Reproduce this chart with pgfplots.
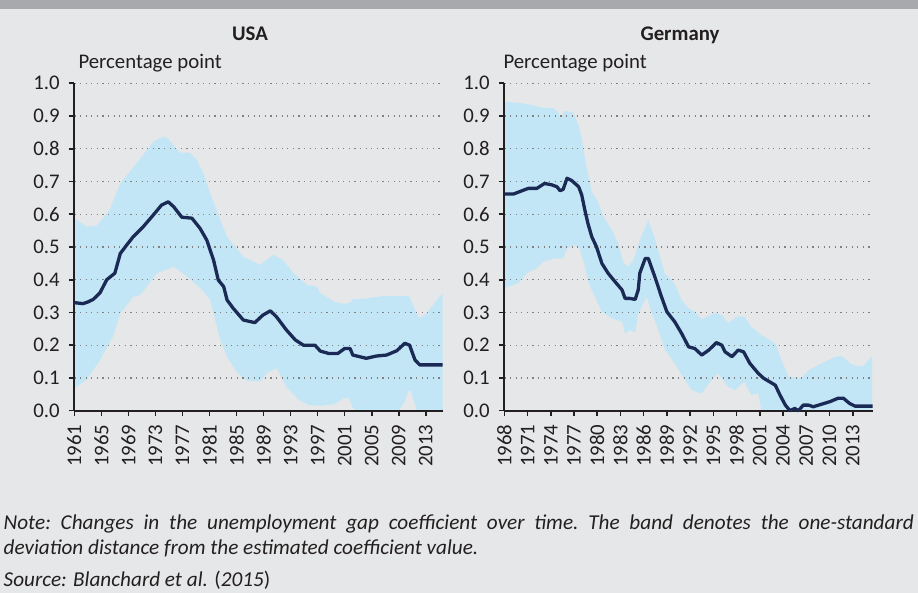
\documentclass[border=0pt]{standalone}
\usepackage{fontspec}
\setmainfont{Carlito}
\usepackage{pgfplots}
\pgfplotsset{compat=1.18}
\usepgfplotslibrary{fillbetween}
\definecolor{bg}{HTML}{E6E7E8}
\definecolor{topbar}{HTML}{A7A9AC}
\definecolor{band}{HTML}{C2E6F6}
\definecolor{navy}{HTML}{1B2A55}
\definecolor{axisc}{HTML}{231F20}
\definecolor{gridc}{HTML}{808080}
\newcommand{\tfont}{\fontsize{20.8bp}{24bp}\selectfont}
\pgfplotsset{
 /tikz/fill between/on layer=main,
 panel/.style={
  set layers, axis on top,
  scale only axis, width=368.4bp, height=327.4bp,
  anchor=south west,
  ymin=0, ymax=1,
  ytick={0,0.1,0.2,0.3,0.4,0.5,0.6,0.7,0.8,0.9,1.0},
  axis x line*=bottom, axis y line*=left,
  axis line style={axisc, line width=2bp, -},
  tick style={axisc, line width=1.6bp},
  major tick length=5.5bp,
  tick align=outside,
  ymajorgrids,
  grid style={gridc, line width=1.1bp, dash pattern=on 1.2bp off 4.4bp},
  /pgf/number format/assume math mode=true,
  /pgf/number format/1000 sep={},
  yticklabel={\pgfmathprintnumber[fixed,fixed zerofill,precision=1]{\tick}},
  ticklabel style={font=\tfont, text=axisc},
  xticklabel style={rotate=90, anchor=east},
  xticklabel shift=5bp,
  yticklabel shift=5.5bp,
 }
}
\begin{document}
\begin{tikzpicture}
\fill[bg] (0,0) rectangle (918bp,593bp);
\fill[topbar] (0,583.7bp) rectangle (918bp,593bp);
\node[anchor=base, inner sep=0, font=\bfseries\tfont, text=axisc] at (250bp,552bp) {USA};
\node[anchor=base, inner sep=0, font=\bfseries\tfont, text=axisc] at (680bp,552bp) {Germany};
\node[anchor=base west, inner sep=0, font=\tfont, text=axisc] at (78.3bp,524.5bp) {Percentage point};
\node[anchor=base west, inner sep=0, font=\tfont, text=axisc] at (503.3bp,524.5bp) {Percentage point};

\begin{axis}[panel, at={(74.3bp,182.3bp)}, xmin=1961, xmax=2015.5, xtick={1961,1965,...,2013}]
\addplot[draw=none, name path=uu] coordinates {
(1961,0.588)(1962.8,0.562)(1964.3,0.565)(1966.2,0.613)(1967.8,0.694)(1969.2,0.730)(1971.2,0.781)(1972.7,0.822)(1974.2,0.837)(1974.9,0.830)(1976.6,0.788)(1978.1,0.788)(1979.1,0.766)(1980.1,0.725)(1981.1,0.664)(1982.6,0.582)(1983.6,0.531)(1986.0,0.470)(1988.5,0.445)(1990.4,0.476)(1991.9,0.460)(1993.4,0.420)(1995.4,0.384)(1996.9,0.379)(1997.4,0.359)(1999.4,0.333)(2000.9,0.326)(2001.9,0.330)(2002.1,0.340)(2004.2,0.343)(2006.7,0.350)(2010.2,0.350)(2010.6,0.348)(2011.4,0.307)(2012.1,0.282)(2013.1,0.297)(2015.5,0.360)};
\addplot[draw=none, name path=ul] coordinates {
(1961,0.068)(1962.8,0.094)(1964.8,0.155)(1966.7,0.226)(1967.8,0.297)(1969.7,0.348)(1970.7,0.353)(1971.7,0.379)(1973.2,0.420)(1975.7,0.440)(1977.7,0.410)(1979.6,0.375)(1980.3,0.360)(1981.1,0.338)(1982.6,0.216)(1983.6,0.165)(1985.0,0.119)(1986.5,0.092)(1988.5,0.090)(1989.5,0.116)(1990.9,0.130)(1992.4,0.073)(1994.2,0.033)(1995.7,0.017)(1997.4,0.015)(1999.4,0.020)(2000.9,0.038)(2001.6,0.038)(2002.2,0.010)(2002.6,0.0)(2009.0,0.0)(2009.9,0.030)(2010.4,0.060)(2010.8,0.060)(2011.7,0.0)(2015.5,0.0)};
\addplot[band, on layer=main] fill between[of=uu and ul];
\addplot[navy, line width=3.3bp, on layer=axis foreground, line join=round] coordinates {
(1961,0.330)(1962.3,0.327)(1963.0,0.332)(1963.8,0.340)(1964.8,0.360)(1965.8,0.400)(1967.0,0.420)(1967.8,0.480)(1968.75,0.506)(1969.7,0.531)(1971.2,0.562)(1972.7,0.598)(1973.9,0.628)(1974.9,0.638)(1975.7,0.623)(1976.9,0.591)(1978.4,0.588)(1979.6,0.557)(1980.6,0.521)(1981.6,0.460)(1982.3,0.399)(1983.1,0.379)(1983.6,0.338)(1984.5,0.313)(1986.0,0.277)(1987.7,0.269)(1988.9,0.292)(1990.0,0.305)(1990.9,0.287)(1992.4,0.246)(1993.7,0.216)(1994.9,0.200)(1996.6,0.200)(1997.4,0.182)(1998.6,0.175)(2000.0,0.175)(2001.0,0.190)(2001.8,0.190)(2002.2,0.170)(2004.2,0.160)(2005.7,0.167)(2007.2,0.170)(2008.7,0.183)(2009.9,0.206)(2010.6,0.200)(2011.4,0.155)(2012.1,0.140)(2015.5,0.140)};
\end{axis}

\begin{axis}[panel, at={(504.3bp,182.3bp)}, xmin=1968, xmax=2015.58, xtick={1968,1971,...,2013}]
\addplot[draw=none, name path=gu] coordinates {
(1968,0.944)(1970.2,0.939)(1971.5,0.934)(1973.0,0.925)(1974.3,0.925)(1975.0,0.910)(1975.2,0.893)(1975.8,0.916)(1976.9,0.910)(1977.6,0.870)(1978.0,0.830)(1978.6,0.746)(1979.3,0.669)(1980.1,0.638)(1980.8,0.593)(1981.9,0.552)(1982.7,0.511)(1983.4,0.450)(1984.0,0.440)(1984.7,0.460)(1985.5,0.521)(1986.6,0.582)(1987.5,0.521)(1988.7,0.420)(1990.0,0.389)(1990.7,0.348)(1990.9,0.338)(1991.8,0.313)(1992.6,0.302)(1993.5,0.279)(1995.2,0.300)(1996.1,0.292)(1996.9,0.267)(1998.2,0.289)(1999.0,0.287)(1999.9,0.257)(2001.2,0.231)(2003.0,0.206)(2003.8,0.155)(2004.7,0.104)(2006.4,0.100)(2007.3,0.124)(2009.0,0.145)(2010.8,0.165)(2011.6,0.167)(2012.9,0.140)(2014.3,0.135)(2015.5,0.167)};
\addplot[draw=none, name path=gl] coordinates {
(1968,0.374)(1969.8,0.389)(1970.9,0.420)(1972.2,0.435)(1973.0,0.455)(1974.5,0.465)(1975.6,0.465)(1976.1,0.496)(1977.1,0.506)(1977.7,0.496)(1978.3,0.450)(1978.9,0.390)(1979.7,0.348)(1980.6,0.302)(1981.9,0.282)(1983.2,0.272)(1983.6,0.236)(1984.2,0.246)(1984.9,0.240)(1985.3,0.297)(1986.4,0.348)(1987.0,0.302)(1987.9,0.246)(1988.8,0.184)(1990.0,0.145)(1991.3,0.094)(1992.2,0.063)(1993.5,0.053)(1994.8,0.094)(1995.6,0.114)(1996.9,0.073)(1997.8,0.063)(1999.0,0.089)(1999.9,0.048)(2000.8,0.053)(2001.2,0.0)(2015.5,0.0)};
\addplot[band, on layer=main] fill between[of=gu and gl];
\addplot[navy, line width=3.3bp, on layer=axis foreground, line join=round] coordinates {
(1968,0.662)(1969.2,0.662)(1970.2,0.671)(1971.1,0.679)(1972.2,0.679)(1973.2,0.694)(1974.1,0.690)(1974.8,0.684)(1975.2,0.672)(1975.6,0.676)(1976.1,0.710)(1976.7,0.703)(1977.6,0.684)(1978.0,0.659)(1978.4,0.613)(1978.8,0.572)(1979.3,0.531)(1979.9,0.501)(1980.6,0.450)(1981.4,0.420)(1982.3,0.394)(1983.2,0.369)(1983.6,0.343)(1984.2,0.343)(1984.9,0.340)(1985.3,0.369)(1985.5,0.420)(1986.2,0.465)(1986.6,0.465)(1987.5,0.405)(1988.3,0.348)(1989.0,0.302)(1990.0,0.272)(1990.9,0.236)(1991.8,0.195)(1992.6,0.190)(1993.5,0.170)(1994.4,0.185)(1995.4,0.208)(1996.1,0.200)(1996.5,0.180)(1997.4,0.165)(1998.2,0.185)(1998.9,0.180)(1999.7,0.145)(2000.8,0.114)(2001.5,0.099)(2003.0,0.078)(2003.6,0.048)(2004.3,0.017)(2004.9,0.000)(2005.5,0.007)(2006.0,0.000)(2006.6,0.017)(2007.3,0.017)(2007.9,0.012)(2009.0,0.020)(2010.1,0.028)(2011.1,0.038)(2011.8,0.038)(2012.6,0.022)(2013.3,0.014)(2015.58,0.014)};
\end{axis}

\begin{scope}[every node/.style={anchor=base west, inner sep=0, text=axisc, font=\itshape\fontsize{21.2bp}{24bp}\selectfont}]
\node at (3.5bp,63bp) {\frenchspacing\makebox[910bp][s]{Note: Changes in the unemployment gap coefficient over time. The band denotes the one-standard}};
\node at (3.5bp,38.7bp) {deviation distance from the estimated coefficient value.};
\node at (3.5bp,6.3bp) {Source: Blanchard et al. \textup{(}2015\textup{)}};
\end{scope}
\pgfresetboundingbox
\useasboundingbox (0,0) rectangle (918bp,593bp);
\end{tikzpicture}
\end{document}
